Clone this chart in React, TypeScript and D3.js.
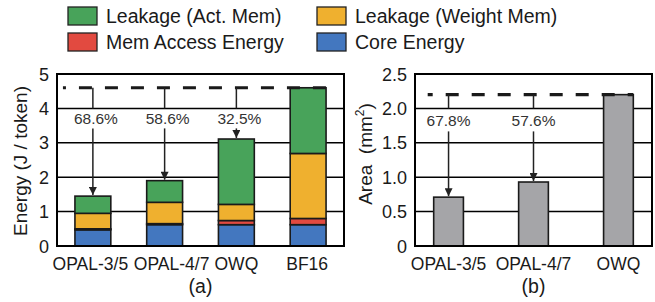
import React, { useEffect, useRef } from "react";
import * as d3 from "d3";

// Panel (a): energy per token, stacked
const energyCategories = ["OPAL-3/5", "OPAL-4/7", "OWQ", "BF16"];
const coreEnergy = [0.47, 0.62, 0.62, 0.62];
const memAccessEnergy = [0.03, 0.03, 0.12, 0.18];
const leakageWeightMem = [0.45, 0.62, 0.47, 1.89];
const leakageActMem = [0.5, 0.63, 1.9, 1.91];
const energyTicks = [0, 1, 2, 3, 4, 5];
const energyBaseline = 4.6;
const energyReductions = ["68.6%", "58.6%", "32.5%"];

// Panel (b): area
const areaCategories = ["OPAL-3/5", "OPAL-4/7", "OWQ"];
const areaValues = [0.71, 0.93, 2.2];
const areaTicks = [0, 0.5, 1, 1.5, 2, 2.5];
const areaTickLabels = ["0", "0.5", "1.0", "1.5", "2.0", "2.5"];
const areaBaseline = 2.2;
const areaReductions = ["67.8%", "57.6%"];

// Legend
const seriesKeys = ["core", "mem", "weight", "act"];
const seriesNames = ["Core Energy", "Mem Access Energy", "Leakage (Weight Mem)", "Leakage (Act. Mem)"];
const seriesColors = ["#4377bf", "#e24a40", "#efb02f", "#48a35a"];
const legendOrder = ["act", "weight", "mem", "core"];

const FONT = "'Liberation Sans', Arial, Helvetica, sans-serif";
const INK = "#1a1a1a";
// small nudges of the x labels in panel (a), as in the original figure
const labelNudgeA = [-2.5, 7, 0, -1];

export default function App() {
  const svgRef = useRef<SVGSVGElement>(null);

  useEffect(() => {
    if (!svgRef.current) return;
    document.body.style.margin = "0";
    const svg = d3.select(svgRef.current);
    svg.selectAll("*").remove();
    svg.attr("font-family", FONT);

    const defs = svg.append("defs");
    defs
      .append("marker")
      .attr("id", "arrow")
      .attr("viewBox", "0 0 10 10")
      .attr("refX", 10)
      .attr("refY", 5)
      .attr("markerWidth", 9)
      .attr("markerHeight", 8)
      .attr("markerUnits", "userSpaceOnUse")
      .attr("orient", "auto")
      .append("path")
      .attr("d", "M0,0 L10,5 L0,10 Z")
      .attr("fill", "#222");

    const top = 74;
    const bottom = 246;

    // ---------- Legend ----------
    const legend = svg.append("g");
    legendOrder.forEach((key, i) => {
      const idx = seriesKeys.indexOf(key);
      const col = i % 2;
      const row = Math.floor(i / 2);
      const x = col === 0 ? 68 : 317;
      const y = row === 0 ? 7 : 33;
      legend
        .append("rect")
        .attr("x", x)
        .attr("y", y)
        .attr("width", 29)
        .attr("height", 18)
        .attr("fill", seriesColors[idx])
        .attr("stroke", "#222")
        .attr("stroke-width", 1.3);
      legend
        .append("text")
        .attr("x", x + 38)
        .attr("y", y + 16)
        .attr("font-size", 19.5)
        .attr("fill", INK)
        .text(seriesNames[idx]);
    });

    // ---------- Panel (a) ----------
    const ax0 = 57;
    const ax1 = 344;
    const xA = d3.scaleBand<string>().domain(energyCategories).range([ax0, ax1]).paddingInner(0.5).paddingOuter(0.25);
    const yA = d3.scaleLinear().domain([0, 5]).range([bottom, top]);
    const gA = svg.append("g");

    gA.selectAll(".grid")
      .data(energyTicks.slice(1, -1))
      .enter()
      .append("line")
      .attr("x1", ax0)
      .attr("x2", ax1)
      .attr("y1", (d) => yA(d))
      .attr("y2", (d) => yA(d))
      .attr("stroke", "#000")
      .attr("stroke-width", 1.5);

    const rows = energyCategories.map((c, i) => ({
      cat: c,
      core: coreEnergy[i],
      mem: memAccessEnergy[i],
      weight: leakageWeightMem[i],
      act: leakageActMem[i],
    }));
    const stacked = d3.stack<any>().keys(seriesKeys)(rows);
    stacked.forEach((layer, li) => {
      gA.selectAll(`.seg-${li}`)
        .data(layer)
        .enter()
        .append("rect")
        .attr("x", (d: any) => xA(d.data.cat)!)
        .attr("width", xA.bandwidth())
        .attr("y", (d) => yA(d[1]))
        .attr("height", (d) => yA(d[0]) - yA(d[1]))
        .attr("fill", seriesColors[li])
        .attr("stroke", "#1a1a1a")
        .attr("stroke-width", 1.6);
    });

    gA.append("text")
      .attr("transform", `translate(27,${(top + bottom) / 2 + 1}) rotate(-90)`)
      .attr("text-anchor", "middle")
      .attr("font-size", 19)
      .attr("fill", INK)
      .text("Energy (J / token)");

    energyTicks.forEach((t) => {
      gA.append("text")
        .attr("x", 49)
        .attr("y", yA(t) + 6.5)
        .attr("text-anchor", "end")
        .attr("font-size", 18)
        .attr("fill", INK)
        .text(String(t));
    });

    energyCategories.forEach((c, i) => {
      gA.append("text")
        .attr("x", xA(c)! + xA.bandwidth() / 2 + labelNudgeA[i])
        .attr("y", 269.5)
        .attr("text-anchor", "middle")
        .attr("font-size", 17.5)
        .attr("fill", INK)
        .text(c);
    });

    gA.append("text")
      .attr("x", (ax0 + ax1) / 2)
      .attr("y", 292.5)
      .attr("text-anchor", "middle")
      .attr("font-size", 19.5)
      .attr("fill", INK)
      .text("(a)");

    // reference dashed line at BF16 level
    gA.append("line")
      .attr("x1", xA(energyCategories[0])! - 12)
      .attr("x2", xA("BF16")! + xA.bandwidth())
      .attr("y1", yA(energyBaseline))
      .attr("y2", yA(energyBaseline))
      .attr("stroke", "#1a1a1a")
      .attr("stroke-width", 3.2)
      .attr("stroke-dasharray", "13,13")
      .attr("stroke-dashoffset", 10);

    energyReductions.forEach((label, i) => {
      const cx = xA(energyCategories[i])! + xA.bandwidth() / 2;
      const total = coreEnergy[i] + memAccessEnergy[i] + leakageWeightMem[i] + leakageActMem[i];
      const yGrid = yA(4);
      gA.append("line")
        .attr("x1", cx).attr("x2", cx)
        .attr("y1", yA(energyBaseline)).attr("y2", yGrid)
        .attr("stroke", "#222").attr("stroke-width", 1.5);
      gA.append("line")
        .attr("x1", cx).attr("x2", cx)
        .attr("y1", yGrid + 20).attr("y2", yA(total) - 1)
        .attr("stroke", "#222").attr("stroke-width", 1.5)
        .attr("marker-end", "url(#arrow)");
      gA.append("text")
        .attr("x", cx + 3)
        .attr("y", yGrid + 16)
        .attr("text-anchor", "middle")
        .attr("font-size", 15.5)
        .attr("fill", "#333")
        .text(label);
    });

    gA.append("rect")
      .attr("x", ax0)
      .attr("y", top)
      .attr("width", ax1 - ax0)
      .attr("height", bottom - top)
      .attr("fill", "none")
      .attr("stroke", "#000")
      .attr("stroke-width", 2);

    // ---------- Panel (b) ----------
    const bx0 = 415;
    const bx1 = 652;
    const xB = d3.scaleBand<string>().domain(areaCategories).range([bx0, bx1]).paddingInner(0.65).paddingOuter(0.22);
    const yB = d3.scaleLinear().domain([0, 2.5]).range([bottom, top]);
    const gB = svg.append("g");

    gB.selectAll(".grid")
      .data(areaTicks.slice(1, -1))
      .enter()
      .append("line")
      .attr("x1", bx0)
      .attr("x2", bx1)
      .attr("y1", (d) => yB(d))
      .attr("y2", (d) => yB(d))
      .attr("stroke", "#000")
      .attr("stroke-width", 1.5);

    gB.selectAll(".bar")
      .data(areaValues)
      .enter()
      .append("rect")
      .attr("x", (_d, i) => xB(areaCategories[i])!)
      .attr("width", xB.bandwidth())
      .attr("y", (d) => yB(d))
      .attr("height", (d) => yB(0) - yB(d))
      .attr("fill", "#a5a5a8")
      .attr("stroke", "#1a1a1a")
      .attr("stroke-width", 1.6);

    const areaTitle = gB
      .append("text")
      .attr("transform", `translate(372,${(top + bottom) / 2 - 6}) rotate(-90)`)
      .attr("text-anchor", "middle")
      .attr("font-size", 19)
      .attr("fill", INK)
      .attr("xml:space", "preserve");
    areaTitle.append("tspan").text("Area  (mm");
    areaTitle.append("tspan").attr("font-size", 12).attr("dy", -8).text("2");
    areaTitle.append("tspan").attr("dy", 8).text(")");

    areaTicks.forEach((t, i) => {
      gB.append("text")
        .attr("x", 407)
        .attr("y", yB(t) + 6.5)
        .attr("text-anchor", "end")
        .attr("font-size", 18)
        .attr("fill", INK)
        .text(areaTickLabels[i]);
    });

    areaCategories.forEach((c) => {
      gB.append("text")
        .attr("x", xB(c)! + xB.bandwidth() / 2)
        .attr("y", 269.5)
        .attr("text-anchor", "middle")
        .attr("font-size", 17.5)
        .attr("fill", INK)
        .text(c);
    });

    gB.append("text")
      .attr("x", (bx0 + bx1) / 2)
      .attr("y", 292.5)
      .attr("text-anchor", "middle")
      .attr("font-size", 19.5)
      .attr("fill", INK)
      .text("(b)");

    gB.append("line")
      .attr("x1", xB(areaCategories[0])! - 6)
      .attr("x2", xB("OWQ")! + xB.bandwidth())
      .attr("y1", yB(areaBaseline))
      .attr("y2", yB(areaBaseline))
      .attr("stroke", "#1a1a1a")
      .attr("stroke-width", 3.2)
      .attr("stroke-dasharray", "13,13")
      .attr("stroke-dashoffset", 8);

    areaReductions.forEach((label, i) => {
      const cx = xB(areaCategories[i])! + xB.bandwidth() / 2;
      const yGrid = yB(2);
      gB.append("line")
        .attr("x1", cx).attr("x2", cx)
        .attr("y1", yB(areaBaseline)).attr("y2", yGrid)
        .attr("stroke", "#222").attr("stroke-width", 1.5);
      gB.append("line")
        .attr("x1", cx).attr("x2", cx)
        .attr("y1", yGrid + 23).attr("y2", yB(areaValues[i]) - 1)
        .attr("stroke", "#222").attr("stroke-width", 1.5)
        .attr("marker-end", "url(#arrow)");
      gB.append("text")
        .attr("x", cx)
        .attr("y", yGrid + 18)
        .attr("text-anchor", "middle")
        .attr("font-size", 15.5)
        .attr("fill", "#333")
        .text(label);
    });

    gB.append("rect")
      .attr("x", bx0)
      .attr("y", top)
      .attr("width", bx1 - bx0)
      .attr("height", bottom - top)
      .attr("fill", "none")
      .attr("stroke", "#000")
      .attr("stroke-width", 2);
  }, []);

  return <svg ref={svgRef} width={655} height={302} style={{ display: "block", background: "#fff" }} />;
}
